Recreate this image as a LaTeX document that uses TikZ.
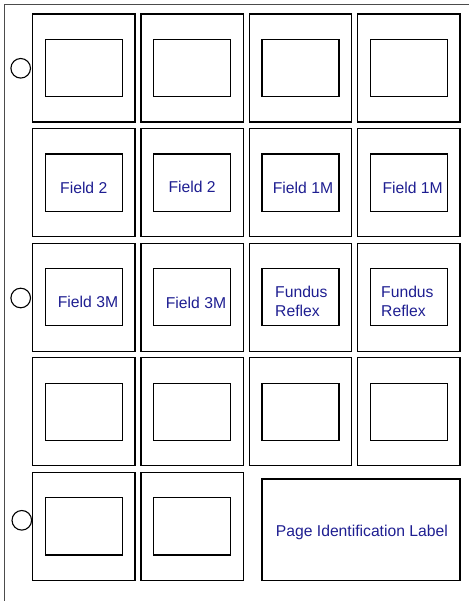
\documentclass[tikz,border=0pt]{standalone}
\usepackage{fontspec}
\setmainfont{Liberation Sans}
\definecolor{txt}{RGB}{30,30,145}
\begin{document}
\begin{tikzpicture}[x=1pt,y=-1pt,
 slot/.style={draw=black,line width=1.2pt,minimum width=102.3pt,minimum height=108pt,inner sep=0pt,outer sep=0pt},
 win/.style={draw=black,line width=1.2pt,minimum width=77pt,minimum height=57.3pt,inner sep=0pt,outer sep=0pt},
 hole/.style={draw=black,line width=1.1pt,circle,minimum size=19.6pt,inner sep=0pt},
 lbl/.style={text=txt,font=\fontsize{15.7}{19}\selectfont,inner sep=0pt,anchor=base west},
 edge/.style={line width=1pt,black!70}]
\useasboundingbox (0,0) rectangle (469,601);
\coordinate (pb) at (4.5,601);
\coordinate (pc) at (4.5,4.7);
\coordinate (pr) at (469,4.7);
\draw[edge] (pb) -- (pc) -- (pr);
\foreach \r in {0,...,4}{
 \foreach \c in {0,...,3}{
  \pgfmathtruncatemacro\keep{(\r<4)||(\c<2)}
  \ifnum\keep=1
   \node[slot] (s\r\c) at ({83.85+108.3*\c},{68+114.6*\r}) {};
   \node[win] (w\r\c) at (s\r\c.center) {};
  \fi
 }}
\node[slot,minimum width=198pt,minimum height=101.7pt] (pil) at (361,529.85) {};
\node[hole] (h1) at (20.7,68.3) {};
\node[hole] (h2) at (20.7,298) {};
\node[hole] (h3) at (21.8,520.3) {};
\node[lbl] (t1) at (60,193.3) {Field 2};
\node[lbl] (t2) at (168.3,192.5) {Field 2};
\node[lbl] (t3) at (272.7,193.3) {Field 1M};
\node[lbl] (t4) at (382.3,193.3) {Field 1M};
\node[lbl] (t5) at (57.7,307.5) {Field 3M};
\node[lbl] (t6) at (165.7,308) {Field 3M};
\node[lbl] (t7a) at (275,297.3) {Fundus};
\node[lbl] (t7b) at (275,316) {Reflex};
\node[lbl] (t8a) at (381,297.3) {Fundus};
\node[lbl] (t8b) at (381,316) {Reflex};
\node[lbl] (t9) at (275.7,536.3) {Page Identification Label};
\end{tikzpicture}
\end{document}
